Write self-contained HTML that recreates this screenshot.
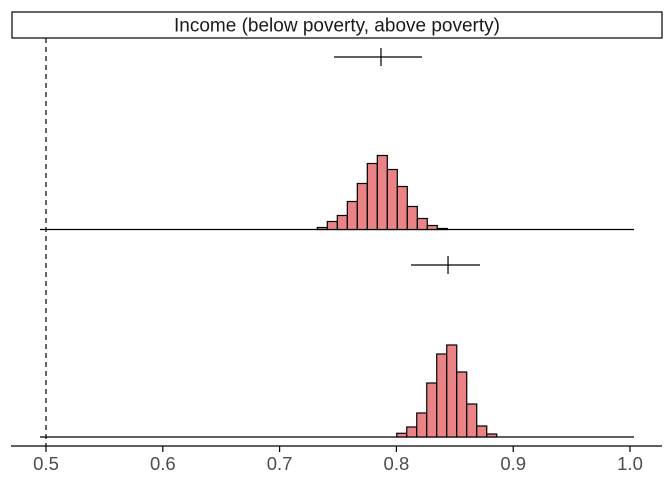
<!DOCTYPE html>
<html><head><meta charset="utf-8"><style>
body{margin:0;background:#fff}
svg{display:block;font-family:"Liberation Sans",sans-serif}
</style></head><body>
<svg id="chart" width="672" height="480" viewBox="0 0 672 480" xmlns="http://www.w3.org/2000/svg">
<rect x="12" y="12" width="650" height="26" fill="#fff" stroke="#000" stroke-width="1.2"/>
<text x="337" y="31.5" font-size="19" text-anchor="middle" fill="#1a1a1a">Income (below poverty, above poverty)</text>
<line x1="46" y1="38" x2="46" y2="446" stroke="#000" stroke-width="1.2" stroke-dasharray="5,4"/>
<g id="marks"></g>
<line x1="11" y1="446" x2="662" y2="446" stroke="#000" stroke-width="1.2"/>
<g id="axis"></g>
</svg>
<script>
const xTicks = [0.5, 0.6, 0.7, 0.8, 0.9, 1.0];
const tickLabels = ["0.5", "0.6", "0.7", "0.8", "0.9", "1.0"];
const binWidth = 0.00856;
const topStart = 0.7323;
const topCounts = [2, 8, 14, 28, 46, 66, 74, 60, 43, 23, 11, 4, 1];
const bottomStart = 0.8003;
const bottomCounts = [3.7, 10, 24, 54, 83, 92, 65, 33, 11, 3];
const topErr = [0.7466, 0.7868, 0.8219];
const bottomErr = [0.8125, 0.8442, 0.8716];

function x(v){ return 46 + (v - 0.5) * 1168; }
const NS = "http://www.w3.org/2000/svg";
const marks = document.getElementById('marks');
const axis = document.getElementById('axis');
function mk(tag, attrs, parent){
  const e = document.createElementNS(NS, tag);
  for (const k in attrs) e.setAttribute(k, attrs[k]);
  parent.appendChild(e); return e;
}
function panel(start, counts, base, err, ey, name){
  const bl = mk('line', {x1: 40, y1: base, x2: 634, y2: base, stroke: '#000', 'stroke-width': 1.2}, marks);
  
  
  counts.forEach((c, i) => {
    const x0 = x(start + i * binWidth), x1 = x(start + (i + 1) * binWidth);
    const r = mk('rect', {x: x0, y: base - c, width: x1 - x0, height: c, fill: '#ea8385', stroke: '#000', 'stroke-width': 1.2}, marks);
    
    
  });
  const h = mk('line', {x1: x(err[0]), y1: ey, x2: x(err[2]), y2: ey, stroke: '#000', 'stroke-width': 1.2}, marks);
  
  
  const v = mk('line', {x1: x(err[1]), y1: ey - 9, x2: x(err[1]), y2: ey + 9, stroke: '#000', 'stroke-width': 1.2}, marks);
  
  
}
panel(topStart, topCounts, 229.5, topErr, 57, 'below-poverty');
panel(bottomStart, bottomCounts, 437, bottomErr, 265, 'above-poverty');
xTicks.forEach((t, i) => {
  const tk = mk('line', {x1: x(t), y1: 446, x2: x(t), y2: 452, stroke: '#000', 'stroke-width': 1.2}, axis);
  
  
  const tx = mk('text', {x: x(t), y: 470, 'font-size': 18.5, 'text-anchor': 'middle', fill: '#4d4d4d'}, axis);
  tx.textContent = tickLabels[i];
  
  
});
</script>
</body></html>
